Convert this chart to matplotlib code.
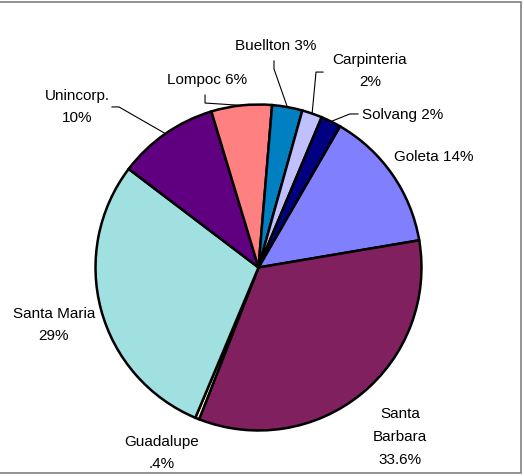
import numpy as np
import matplotlib
matplotlib.use("Agg")
import matplotlib.pyplot as plt
from matplotlib.patches import Rectangle

plt.rcParams['font.family'] = ['Liberation Sans', 'DejaVu Sans']

# share by area, clockwise starting with Goleta
places = ["Goleta", "Santa Barbara", "Guadalupe", "Santa Maria", "Unincorp.",
          "Lompoc", "Buellton", "Carpinteria", "Solvang"]
shares = [14, 33.6, 0.4, 29, 10, 6, 3, 2, 2]
labels = ["Goleta 14%", "Santa\nBarbara\n33.6%", "Guadalupe\n.4%", "Santa Maria\n29%",
          "Unincorp.\n10%", "Lompoc 6%", "Buellton 3%", "Carpinteria\n2%", "Solvang 2%"]
colors = ["#8080FF", "#80205F", "#FFFFC0", "#A0E0E0", "#600080",
          "#FF8080", "#0080C0", "#C0C0FF", "#000080"]

# label centres (data units, pie radius = 1)
label_pos = [(1.077, 0.684), (0.868, -1.034), (-0.592, -1.132), (-1.255, -0.347),
             (-1.113, 0.991), (-0.316, 1.156), (0.107, 1.365), (0.684, 1.212),
             (0.887, 0.942)]
# leader lines: text-side start and elbow, end goes to the wedge's middle
leaders = {
    "Unincorp.": [(-0.899, 0.985), (-0.856, 0.985)],
    "Lompoc": [(-0.328, 1.058), (-0.328, 1.009)],
    "Buellton": [(0.095, 1.267), (0.095, 1.218)],
    "Carpinteria": [(0.396, 1.199), (0.353, 1.199)],
    "Solvang": [(0.610, 0.942), (0.561, 0.942)],
}

fig = plt.figure(figsize=(5.24, 4.77), dpi=100)
ax = fig.add_axes([0, 0, 1, 1])
wedges, _ = ax.pie(shares, colors=colors, startangle=60, counterclock=False,
                   wedgeprops=dict(edgecolor="black", linewidth=1.8))

for lab, (x, y) in zip(labels, label_pos):
    ax.text(x, y, lab, ha="center", va="center", fontsize=11, linespacing=1.8)

for w, name in zip(wedges, places):
    if name in leaders:
        mid = np.deg2rad((w.theta1 + w.theta2) / 2)
        pts = leaders[name] + [(np.cos(mid), np.sin(mid))]
        xs, ys = zip(*pts)
        ax.plot(xs, ys, color="black", lw=0.8)

ax.set_xlim(-1.586, 1.629)
ax.set_ylim(-1.279, 1.647)
ax.set_aspect("equal")
ax.axis("off")

fig.patches.append(Rectangle((-0.01, 3 / 477), 521 / 524 + 0.01, 1 - 6 / 477,
                             transform=fig.transFigure, fill=False,
                             edgecolor="#808080", lw=1.2))
fig.savefig("out.png", dpi=100)
